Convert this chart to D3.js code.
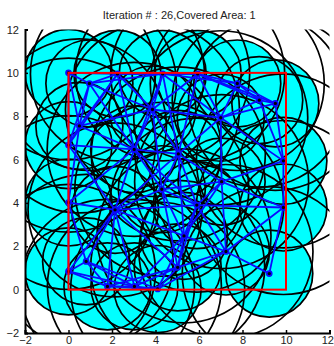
<!DOCTYPE html>
<html>
<head>
<meta charset="utf-8">
<script src="https://cdnjs.cloudflare.com/ajax/libs/d3/7.8.5/d3.min.js"></script>
<style>
  body { margin: 0; background: #fff; }
  svg text { font-family: "Liberation Sans", Arial, sans-serif; }
</style>
</head>
<body>
<div id="chart"></div>
<script>
// node positions (iteration 26)
const nodeX = [0, 0.96, 2.25, 4.33, 5.94, 7.76, 8.77, 9.51, 3.86, 7.0,
               0.5, 0, 3.02, 5.05, 9.88, 7.04, 4.29, 0, 2.14, 5.9,
               9.88, 5.31, 7.24, 0.81, 0, 5.02, 9.23, 1.79, 3.03, 4.1];
const nodeY = [10, 9.51, 9.95, 9.95, 9.95, 9.51, 8.74, 8.59, 8.31, 7.93,
               7.55, 6.67, 6.47, 6.26, 5.94, 4.98, 4.63, 4.02, 3.68, 3.9,
               3.79, 2.48, 1.76, 1.3, 0.84, 1.03, 0.74, 0.15, 0.15, 0.03];
const sensingRange = 2;
const commRange = 4;
const areaBox = [0, 10];
const xTicks = [-2, 0, 2, 4, 6, 8, 10, 12];
const yTicks = [-2, 0, 2, 4, 6, 8, 10, 12];
const iteration = 26;
const coveredArea = 1;

const width = 334, height = 346;
const svg = d3.select("#chart").append("svg")
  .attr("width", width).attr("height", height);

const x = d3.scaleLinear().domain([-2, 12]).range([25, 329.5]);
const y = d3.scaleLinear().domain([-2, 12]).range([333, 29.5]);
const px = d => x(d) - x(0);   // data length -> pixels

svg.append("clipPath").attr("id", "plotclip")
  .append("rect")
  .attr("x", x(-2)).attr("y", y(12))
  .attr("width", x(12) - x(-2)).attr("height", y(-2) - y(12));

const nodes = nodeX.map((v, i) => ({x: v, y: nodeY[i]}));

// links between nodes inside communication range
const links = [];
for (let i = 0; i < nodes.length; i++) {
  for (let j = i + 1; j < nodes.length; j++) {
    let dx = nodes[i].x - nodes[j].x, dy = nodes[i].y - nodes[j].y;
    if (Math.sqrt(dx * dx + dy * dy) <= commRange) links.push([nodes[i], nodes[j]]);
  }
}

let plot = svg.append("g").attr("clip-path", "url(#plotclip)");

// sensing discs
plot.selectAll("circle.fill")
  .data(nodes)
  .enter().append("circle")
  .attr("class", "fill")
  .attr("cx", d => x(d.x)).attr("cy", d => y(d.y))
  .attr("r", px(sensingRange))
  .attr("fill", "#00ffff");

plot.selectAll("circle.sense")
  .data(nodes)
  .enter().append("circle")
  .attr("class", "sense")
  .attr("cx", d => x(d.x)).attr("cy", d => y(d.y))
  .attr("r", px(sensingRange))
  .attr("fill", "none").attr("stroke", "#000").attr("stroke-width", 1.7);

// communication circles
plot.selectAll("circle.comm")
  .data(nodes)
  .enter().append("circle")
  .attr("class", "comm")
  .attr("cx", d => x(d.x)).attr("cy", d => y(d.y))
  .attr("r", px(commRange))
  .attr("fill", "none").attr("stroke", "#000").attr("stroke-width", 1.7);

plot.selectAll("line.link")
  .data(links)
  .enter().append("line")
  .attr("class", "link")
  .attr("x1", d => x(d[0].x)).attr("y1", d => y(d[0].y))
  .attr("x2", d => x(d[1].x)).attr("y2", d => y(d[1].y))
  .attr("stroke", "#0a0aff").attr("stroke-width", 1.8);

plot.selectAll("circle.node")
  .data(nodes)
  .enter().append("circle")
  .attr("class", "node")
  .attr("cx", d => x(d.x)).attr("cy", d => y(d.y))
  .attr("r", 2.5)
  .attr("fill", "#000").attr("stroke", "#0a0aff").attr("stroke-width", 1.7);

// target area
plot.append("rect")
  .attr("x", x(areaBox[0])).attr("y", y(areaBox[1]))
  .attr("width", x(areaBox[1]) - x(areaBox[0]))
  .attr("height", y(areaBox[0]) - y(areaBox[1]))
  .attr("fill", "none").attr("stroke", "#ff0000").attr("stroke-width", 2);

// axes
let xAxis = d3.axisBottom(x).tickValues(xTicks).tickSize(-3).tickPadding(3.5);
let yAxis = d3.axisLeft(y).tickValues(yTicks).tickSize(-3).tickPadding(6);

let gx = svg.append("g").attr("transform", "translate(0," + y(-2) + ")").call(xAxis);
let gy = svg.append("g").attr("transform", "translate(" + x(-2) + ",0)").call(yAxis);

[gx, gy].forEach(function(g) {
  g.select(".domain").attr("stroke", "#000").attr("stroke-width", 2);
  g.selectAll(".tick line").attr("stroke", "#000").attr("stroke-width", 1.5);
  g.selectAll(".tick text").attr("fill", "#222").style("font-size", "11px");
});

// keep the last x label inside the window
gx.selectAll(".tick text").filter(d => d === 12)
  .attr("text-anchor", "end").attr("x", 4);

svg.append("text")
  .attr("x", (x(-2) + x(12)) / 2 + 2).attr("y", 19)
  .attr("text-anchor", "middle")
  .attr("fill", "#222")
  .style("font-size", "11px")
  .text("Iteration # : " + iteration + ",Covered Area: " + coveredArea);
</script>
</body>
</html>
